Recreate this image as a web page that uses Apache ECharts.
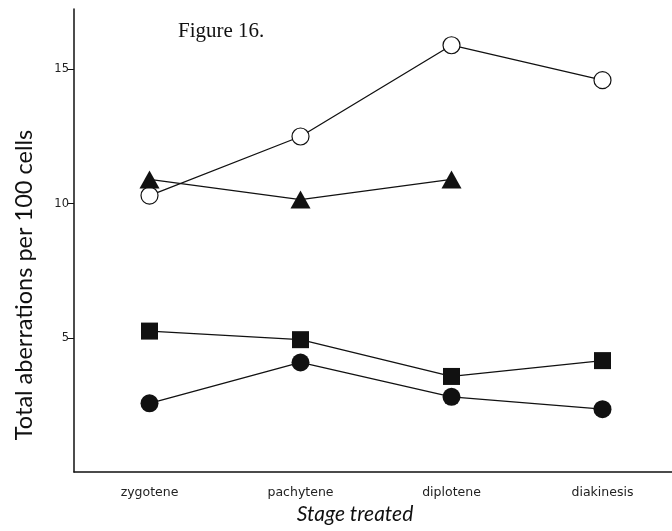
<!DOCTYPE html>
<html>
<head>
<meta charset="utf-8">
<script src="https://cdn.jsdelivr.net/npm/echarts@6/dist/echarts.min.js"></script>
<style>
html,body{margin:0;padding:0;background:#fff;}
#chart{width:672px;height:531px;}
</style>
</head>
<body>
<div id="chart"></div>
<script>
const categories = ['zygotene', 'pachytene', 'diplotene', 'diakinesis'];
const openCircles = [10.3, 12.5, 15.9, 14.6];
const triangles = [10.9, 10.15, 10.9, null];
const squares = [5.25, 4.93, 3.56, 4.15];
const filledCircles = [2.56, 4.08, 2.8, 2.34];
const yTicks = [5, 10, 15];

const chart = echarts.init(document.getElementById('chart'));
const lineStyle = { color: '#111', width: 1.3 };
chart.setOption({
  backgroundColor: '#fff',
  animation: false,
  grid: { left: 74, top: 9, width: 604, bottom: 59, containLabel: false, outerBoundsMode: 'none' },
  xAxis: {
    type: 'category',
    data: categories,
    boundaryGap: true,
    axisLine: { lineStyle: { color: '#111', width: 1.5 } },
    axisTick: { alignWithLabel: true, length: 4, lineStyle: { color: '#111' } },
    axisLabel: { color: '#222', fontFamily: 'DejaVu Sans', fontSize: 12.5, margin: 14 }
  },
  yAxis: {
    type: 'value',
    min: 0,
    max: 17.25,
    interval: 5,
    splitLine: { show: false },
    axisLine: { show: true, lineStyle: { color: '#111', width: 1.5 } },
    axisTick: { show: true, length: 6, customValues: yTicks, lineStyle: { color: '#111' } },
    axisLabel: {
      color: '#222', fontFamily: 'DejaVu Sans', fontSize: 11.5, margin: 5,
      customValues: yTicks
    }
  },
  graphic: [
    {
      type: 'text', left: 178, top: 21,
      style: { text: 'Figure 16.', font: '21px "Liberation Serif"', fill: '#111' }
    },
    {
      type: 'text', x: 24, y: 285, rotation: Math.PI / 2,
      style: { text: 'Total aberrations per 100 cells', font: '23.5px Lato', fill: '#111',
               textAlign: 'center', textVerticalAlign: 'middle' }
    },
    {
      type: 'text', x: 355, y: 514,
      style: { text: 'Stage treated', font: 'italic 21px Lato', fill: '#111',
               textAlign: 'center', textVerticalAlign: 'middle' }
    }
  ],
  series: [
    { type: 'line', data: openCircles, symbol: 'circle', symbolSize: 17,
      lineStyle, itemStyle: { color: '#fff', borderColor: '#111', borderWidth: 1.2 } },
    { type: 'line', data: triangles, symbol: 'triangle', symbolSize: [20, 18],
      lineStyle, itemStyle: { color: '#111' } },
    { type: 'line', data: squares, symbol: 'rect', symbolSize: 17,
      lineStyle, itemStyle: { color: '#111' } },
    { type: 'line', data: filledCircles, symbol: 'circle', symbolSize: 18,
      lineStyle, itemStyle: { color: '#111' } }
  ]
});
</script>
</body>
</html>
